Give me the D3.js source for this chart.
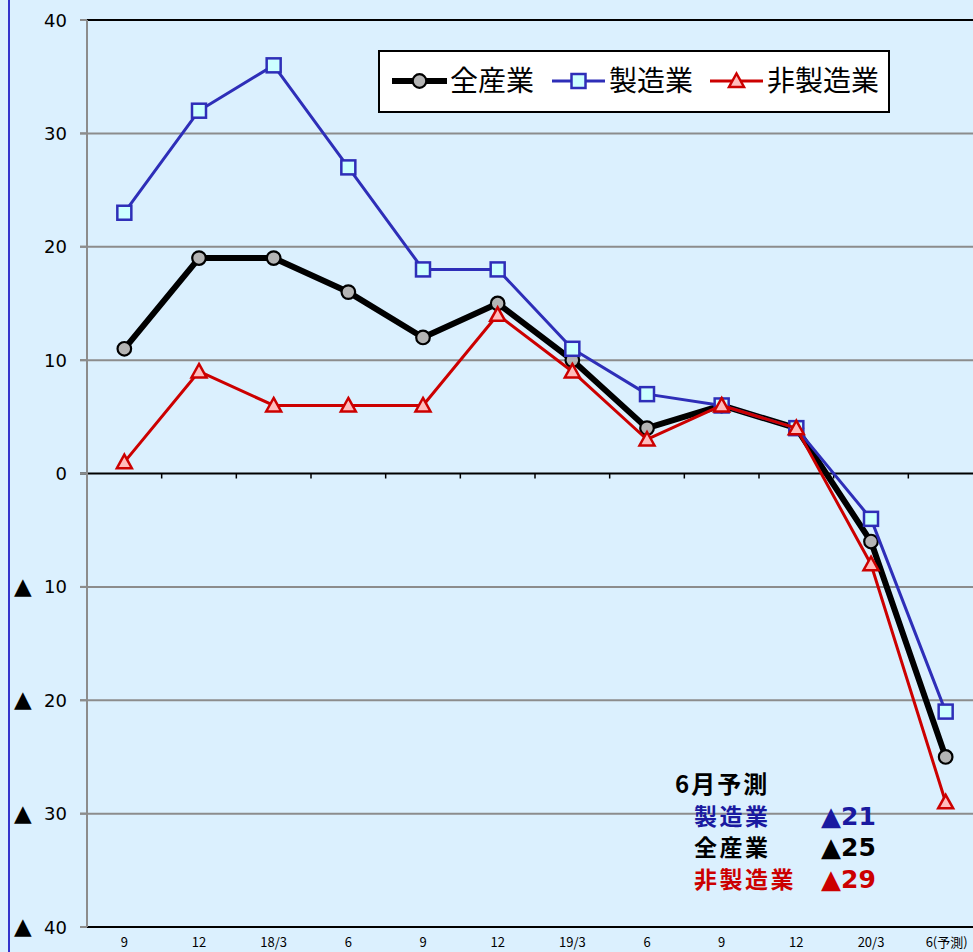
<!DOCTYPE html>
<html>
<head>
<meta charset="utf-8">
<script src="https://cdn.jsdelivr.net/npm/d3@7"></script>
<style>
  body { margin: 0; background: #dbf0fe; }
  svg { display: block; }
</style>
</head>
<body>
<svg id="chart"></svg>
<script>
// 四半期ラベル
var quarters = ["9", "12", "18/3", "6", "9", "12", "19/3", "6", "9", "12", "20/3", "6(予測)"];
var allInd = [11, 19, 19, 16, 12, 15, 10, 4, 6, 4, -6, -25];
var mfg = [23, 32, 36, 27, 18, 18, 11, 7, 6, 4, -4, -21];
var nonMfg = [1, 9, 6, 6, 6, 14, 9, 3, 6, 4, -8, -29];
var yTicks = [40, 30, 20, 10, 0, -10, -20, -30, -40];

var W = 973, H = 952;
var margin = {top: 20, bottom: 25, left: 87, right: -10};

var svg = d3.select("#chart")
    .attr("width", W)
    .attr("height", H);

svg.append("rect")
    .attr("width", W).attr("height", H)
    .attr("fill", "#dbf0fe");

// left blue border
svg.append("line")
    .attr("x1", 9).attr("x2", 9)
    .attr("y1", 0).attr("y2", H)
    .attr("stroke", "#3333cc").attr("stroke-width", 2);

var x = d3.scalePoint()
    .domain(d3.range(quarters.length))
    .range([margin.left, W - margin.right])
    .padding(0.5);
var step = x.step();

var y = d3.scaleLinear()
    .domain([-40, 40])
    .range([H - margin.bottom, margin.top]);

// gridlines
svg.append("g")
    .selectAll("line")
    .data(yTicks)
    .join("line")
    .attr("x1", margin.left - 7)
    .attr("x2", W)
    .attr("y1", d => y(d)).attr("y2", d => y(d))
    .attr("stroke", d => (d == 0 || d == 40 || d == -40) ? "#000" : "#8c8c8c")
    .attr("stroke-width", 2);

// left tick stubs are gray
svg.append("g")
    .selectAll("line")
    .data(yTicks)
    .join("line")
    .attr("x1", margin.left - 7).attr("x2", margin.left)
    .attr("y1", d => y(d)).attr("y2", d => y(d))
    .attr("stroke", "#8c8c8c").attr("stroke-width", 2);

// y axis line
svg.append("line")
    .attr("x1", margin.left).attr("x2", margin.left)
    .attr("y1", y(40)).attr("y2", y(-40))
    .attr("stroke", "#8c8c8c").attr("stroke-width", 2);

// category ticks on zero line
svg.append("g")
    .selectAll("line")
    .data(d3.range(1, quarters.length))
    .join("line")
    .attr("x1", d => margin.left + d * step)
    .attr("x2", d => margin.left + d * step)
    .attr("y1", y(0)).attr("y2", y(0) + 5)
    .attr("stroke", "#000").attr("stroke-width", 1.5);

// y labels
var yl = svg.append("g")
    .style("font-family", "'DejaVu Sans', Verdana, sans-serif")
    .style("font-size", "18px");
yl.selectAll("text.num")
    .data(yTicks)
    .join("text")
    .attr("class", "num")
    .attr("x", 67)
    .attr("y", d => y(d) + 6.5)
    .attr("text-anchor", "end")
    .text(d => Math.abs(d));
yl.selectAll("text.neg")
    .data(yTicks.filter(d => d < 0))
    .join("text")
    .attr("class", "neg")
    .attr("x", 14)
    .attr("y", d => y(d) + 7)
    .style("font-size", "23px")
    .text("▲");

// x labels
svg.append("g")
    .selectAll("text")
    .data(quarters)
    .join("text")
    .attr("x", (d, i) => i == quarters.length - 1 ? x(i) + 1 : x(i))
    .attr("y", 947)
    .attr("text-anchor", "middle")
    .style("font-family", "'Noto Sans CJK JP', sans-serif")
    .style("font-size", "13px")
    .text(d => d);

var line = d3.line()
    .x((d, i) => x(i))
    .y(d => y(d));

var series = [
    {name: "全産業", values: allInd, color: "#000", width: 6, marker: "circle", fill: "#b4b4b4"},
    {name: "製造業", values: mfg, color: "#2e2eb8", width: 3, marker: "square", fill: "#ccffff"},
    {name: "非製造業", values: nonMfg, color: "#cc0000", width: 3, marker: "triangle", fill: "#ffbcbc"}
];

function drawMarker(g, s, cx, cy) {
    if (s.marker == "circle") {
        g.append("circle")
            .attr("cx", cx).attr("cy", cy).attr("r", 6.8)
            .attr("fill", s.fill).attr("stroke", "#000").attr("stroke-width", 2.2);
    } else if (s.marker == "square") {
        g.append("rect")
            .attr("x", cx - 7).attr("y", cy - 7)
            .attr("width", 14).attr("height", 14)
            .attr("fill", s.fill).attr("stroke", s.color).attr("stroke-width", 2.5);
    } else {
        g.append("path")
            .attr("d", "M" + cx + "," + (cy - 7.5) + "L" + (cx + 7.5) + "," + (cy + 6) + "L" + (cx - 7.5) + "," + (cy + 6) + "Z")
            .attr("fill", s.fill).attr("stroke", s.color).attr("stroke-width", 2.5);
    }
}

series.forEach(function(s) {
    var g = svg.append("g");
    g.append("path")
        .datum(s.values)
        .attr("d", line)
        .attr("fill", "none")
        .attr("stroke", s.color)
        .attr("stroke-width", s.width)
        .attr("stroke-linejoin", "round");
    s.values.forEach(function(v, i) {
        drawMarker(g, s, x(i), y(v));
    });
});

// legend
var legend = svg.append("g");
legend.append("rect")
    .attr("x", 379).attr("y", 51)
    .attr("width", 510).attr("height", 61)
    .attr("fill", "#fff").attr("stroke", "#000").attr("stroke-width", 2);

var legendItems = [
    {x0: 392, x1: 447, tx: 450},
    {x0: 552, x1: 605, tx: 609},
    {x0: 710, x1: 763, tx: 767}
];
series.forEach(function(s, i) {
    var it = legendItems[i];
    legend.append("line")
        .attr("x1", it.x0).attr("x2", it.x1)
        .attr("y1", 81).attr("y2", 81)
        .attr("stroke", s.color).attr("stroke-width", s.width);
    drawMarker(legend, s, (it.x0 + it.x1) / 2, 81);
    legend.append("text")
        .attr("x", it.tx).attr("y", 91)
        .style("font-family", "'Noto Sans CJK JP', sans-serif")
        .style("font-size", "28px")
        .text(s.name);
});

// 6月予測 annotation
var note = svg.append("g")
    .style("font-family", "'Noto Sans CJK JP', sans-serif")
    .style("font-weight", "bold");
note.append("text")
    .attr("x", 675).attr("y", 793)
    .style("font-size", "24px")
    .style("letter-spacing", "2px")
    .text("6月予測");

var last = quarters.length - 1;
var noteRows = [
    {s: series[1], v: mfg[last], c: "#1a1aa0", y: 825},
    {s: series[0], v: allInd[last], c: "#000", y: 856},
    {s: series[2], v: nonMfg[last], c: "#cc0000", y: 888}
];
noteRows.forEach(function(r) {
    note.append("text")
        .attr("x", 694).attr("y", r.y)
        .style("font-size", "23px")
        .style("letter-spacing", "2.5px")
        .attr("fill", r.c)
        .text(r.s.name);
    var t = note.append("text")
        .attr("x", 821).attr("y", r.y)
        .style("font-family", "'DejaVu Sans', Verdana, sans-serif")
        .attr("fill", r.c);
    t.append("tspan").style("font-size", "26px").text("▲");
    t.append("tspan").style("font-size", "25px").text(-r.v);
});
</script>
</body>
</html>
